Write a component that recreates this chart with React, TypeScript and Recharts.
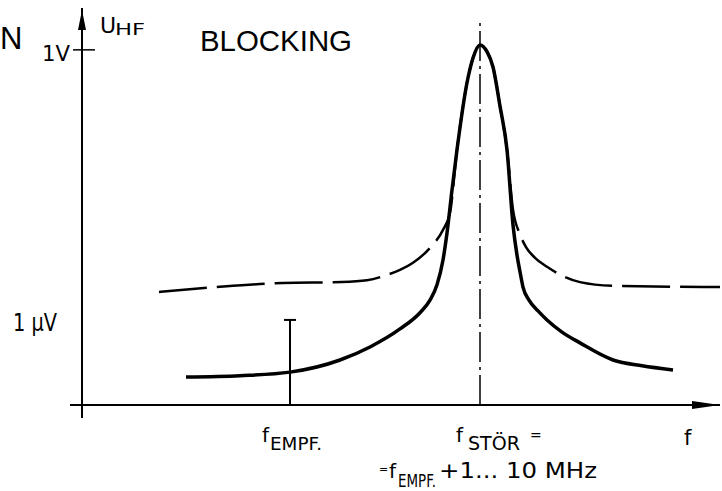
import React from 'react';
import {
  ComposedChart,
  Line,
  XAxis,
  YAxis,
  ReferenceLine,
  ReferenceDot,
} from 'recharts';

// frequency axis in arbitrary units, level in decades above 1 µV
const solidF = [104, 158, 208, 258, 288, 318, 338, 348, 355, 361, 365, 370, 375, 385, 391, 398, 405, 411, 418, 425, 431, 435, 438, 441, 447, 456, 465, 480, 498, 531, 560, 591];
const solidU = [-1.27, -1.24, -1.16, -0.89, -0.6, -0.2, 0.16, 0.44, 0.78, 1.33, 1.93, 2.89, 3.78, 5.27, 5.82, 6.11, 5.96, 5.62, 4.75, 3.78, 2.11, 1.44, 1.07, 0.73, 0.44, 0.2, 0.0, -0.27, -0.51, -0.89, -1.02, -1.11];

const dashF = [77, 135, 201, 260, 285, 305, 318, 331, 348, 361, 368, 375, 385, 391, 398, 405, 411, 418, 425, 431, 438, 444, 453, 465, 498, 531, 638];
const dashU = [0.62, 0.73, 0.82, 0.84, 0.88, 1.0, 1.11, 1.27, 1.6, 2.0, 2.38, 3.78, 5.27, 5.82, 6.11, 5.96, 5.62, 4.75, 3.78, 2.45, 1.9, 1.62, 1.38, 1.18, 0.84, 0.76, 0.73];

const yTicks = [0, 6];
const yTickLabels = ['1 µV', '1V'];
const xTicks = [208, 398, 603];
const xTickLabels = ['EMPF.', 'STÖR', 'f'];

const fEmpf = 208;
const fStoer = 398;
const yMin = -1.89;
const yMax = 6.93;
const xMax = 638;

const solidData = solidF.map((f, i) => ({ f, v: solidU[i] }));
const dashData = dashF.map((f, i) => ({ f, v: dashU[i] }));

const FONT = '"Liberation Sans", Arial, sans-serif';
const DIN = '"DejaVu Sans", sans-serif';

const YTick = (props: any) => {
  const { x, y, payload } = props;
  const idx = yTicks.indexOf(payload.value);
  if (payload.value === 6) {
    return (
      <g>
        <line x1={x - 9} x2={x + 13} y1={y} y2={y} stroke="#000" strokeWidth={1.5} />
        <text x={x - 40} y={y + 11} fontFamily={DIN} fontSize={22} fill="#000" textLength={28} lengthAdjust="spacingAndGlyphs">
          {yTickLabels[idx]}
        </text>
      </g>
    );
  }
  return (
    <text x={x - 69} y={y + 11} fontFamily={DIN} fontSize={24} fill="#000" textLength={44} lengthAdjust="spacingAndGlyphs">
      {yTickLabels[idx]}
    </text>
  );
};

const XTick = (props: any) => {
  const { x, y, payload } = props;
  const idx = xTicks.indexOf(payload.value);
  const base = y + 37;
  if (idx === 2) {
    return (
      <text x={x - 1} y={base + 3} fontFamily={DIN} fontSize={21} fill="#000">f</text>
    );
  }
  if (idx === 0) {
    return (
      <g fill="#000" fontFamily={DIN}>
        <text x={x - 28} y={base} fontSize={20}>f</text>
        <text x={x - 20} y={base + 8} fontSize={18} textLength={52} lengthAdjust="spacingAndGlyphs">
          {xTickLabels[idx]}
        </text>
      </g>
    );
  }
  return (
    <g fill="#000" fontFamily={DIN}>
      <text x={x - 24} y={base} fontSize={20}>f</text>
      <text x={x - 12} y={base + 8} fontSize={19} textLength={52} lengthAdjust="spacingAndGlyphs">
        {xTickLabels[idx]}
      </text>
      <text x={x + 50} y={base - 2} fontSize={14}>=</text>
      <text x={x - 101} y={base + 31} fontSize={11}>=</text>
      <text x={x - 91} y={base + 36} fontSize={20}>f</text>
      <text x={x - 82} y={base + 45} fontSize={17} textLength={38} lengthAdjust="spacingAndGlyphs">
        EMPF.
      </text>
      <text x={x - 41} y={base + 36} fontSize={21} textLength={158} lengthAdjust="spacingAndGlyphs">
        +1... 10 MHz
      </text>
    </g>
  );
};

const Titles = (props: any) => {
  const { cx, cy } = props;
  return (
    <g fill="#000">
      <text x={cx - 82} y={cy + 41} fontFamily={FONT} fontSize={31}>N</text>
      <text x={cx + 18} y={cy + 25} fontFamily={DIN} fontSize={22}>U</text>
      <text x={cx + 33} y={cy + 27} fontFamily={DIN} fontSize={16} textLength={30} lengthAdjust="spacingAndGlyphs">HF</text>
      <text x={cx + 118} y={cy + 43} fontFamily={FONT} fontSize={29} textLength={152} lengthAdjust="spacingAndGlyphs">
        BLOCKING
      </text>
    </g>
  );
};

const ArrowRight = (props: any) => {
  const { cx, cy } = props;
  return <polygon points={`${cx},${cy} ${cx - 28},${cy - 4} ${cx - 28},${cy + 4}`} fill="#000" />;
};

const ArrowUp = (props: any) => {
  const { cx, cy } = props;
  return <polygon points={`${cx},${cy + 2} ${cx - 4},${cy + 22} ${cx + 4},${cy + 22}`} fill="#000" />;
};

export default function App() {
  return (
    <div style={{ position: 'absolute', left: 0, top: 0, background: '#fff' }}>
      <ComposedChart
        width={722}
        height={491}
        margin={{ top: 8, right: 2, left: 22, bottom: 16 }}
      >
        <XAxis
          dataKey="f"
          type="number"
          domain={[0, xMax]}
          ticks={xTicks}
          tick={<XTick />}
          tickLine={false}
          tickSize={0}
          tickMargin={0}
          height={70}
          axisLine={{ stroke: '#000', strokeWidth: 2 }}
          allowDataOverflow
        />
        <YAxis
          type="number"
          domain={[yMin, yMax]}
          ticks={yTicks}
          tick={<YTick />}
          tickLine={false}
          tickSize={0}
          tickMargin={0}
          width={60}
          axisLine={{ stroke: '#000', strokeWidth: 2 }}
          allowDataOverflow
        />
        {/* axis extensions past the origin */}
        <ReferenceLine segment={[{ x: 0, y: yMin }, { x: 0, y: -2.18 }]} stroke="#000" strokeWidth={2} ifOverflow="visible" />
        <ReferenceLine segment={[{ x: -12, y: yMin }, { x: 0, y: yMin }]} stroke="#000" strokeWidth={2} ifOverflow="visible" />
        {/* centre line at f_STÖR */}
        <ReferenceLine
          segment={[{ x: fStoer, y: yMin }, { x: fStoer, y: 6.6 }]}
          stroke="#000"
          strokeWidth={1.5}
          strokeDasharray="30 5 3 5"
        />
        {/* receiver marker */}
        <ReferenceLine segment={[{ x: fEmpf, y: yMin }, { x: fEmpf, y: 0 }]} stroke="#000" strokeWidth={2} />
        <ReferenceLine segment={[{ x: fEmpf - 6, y: 0 }, { x: fEmpf + 6, y: 0 }]} stroke="#000" strokeWidth={2} />
        <Line
          data={dashData}
          dataKey="v"
          type="monotone"
          stroke="#000"
          strokeWidth={2.5}
          strokeDasharray="48 10"
          dot={false}
          isAnimationActive={false}
        />
        <Line
          data={solidData}
          dataKey="v"
          type="monotone"
          stroke="#000"
          strokeWidth={3.5}
          dot={false}
          isAnimationActive={false}
        />
        <ReferenceDot x={xMax} y={yMin} r={0} shape={<ArrowRight />} ifOverflow="visible" />
        <ReferenceDot x={0} y={yMax} r={0} shape={<ArrowUp />} ifOverflow="visible" />
        <ReferenceDot x={0} y={yMax} r={0} shape={<Titles />} ifOverflow="visible" />
      </ComposedChart>
    </div>
  );
}
